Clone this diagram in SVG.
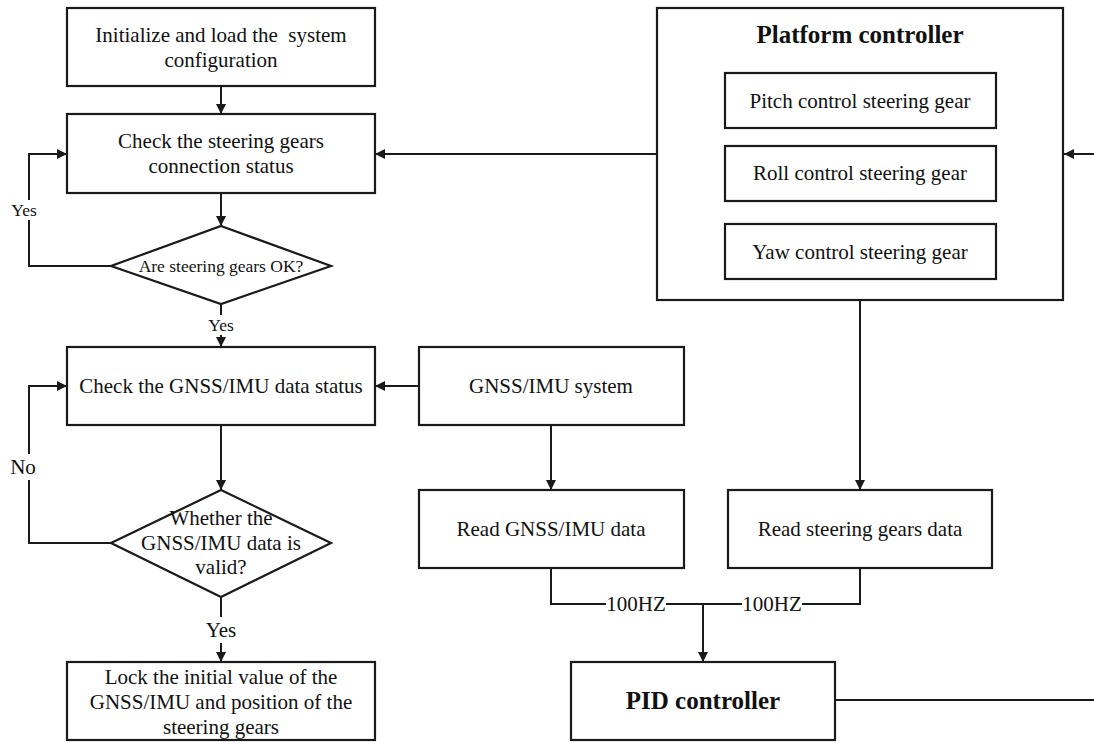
<svg xmlns="http://www.w3.org/2000/svg" width="1094" height="742" viewBox="0 0 1094 742">
<style>
.box{fill:#fff;stroke:#1a1a1a;stroke-width:2.2}
.t{font-family:"Liberation Serif","Times New Roman",serif;font-size:21px;fill:#111;text-anchor:middle}
.s{font-size:17.5px}
.b{font-weight:bold;font-size:25px}
.ln{fill:none;stroke:#1a1a1a;stroke-width:2}
</style>
<defs>
<marker id="ah" viewBox="0 0 10 10" refX="10" refY="5" markerWidth="5" markerHeight="5" orient="auto" markerUnits="strokeWidth">
<path d="M0,0 L10,5 L0,10 z" fill="#1a1a1a"/>
</marker>
</defs>
<rect width="1094" height="742" fill="#fff"/>
<g id="connectors">
<path class="ln" d="M221,86 V114" marker-end="url(#ah)"/>
<path class="ln" d="M221,193 V226" marker-end="url(#ah)"/>
<path class="ln" d="M111,266 H29 V220"/>
<path class="ln" d="M29,200 V154 H67" marker-end="url(#ah)"/>
<path class="ln" d="M221,304 V315"/>
<path class="ln" d="M221,335 V347" marker-end="url(#ah)"/>
<path class="ln" d="M221,425 V490" marker-end="url(#ah)"/>
<path class="ln" d="M111,543 H29 V480"/>
<path class="ln" d="M29,454 V386 H67" marker-end="url(#ah)"/>
<path class="ln" d="M221,597 V617"/>
<path class="ln" d="M221,643 V662" marker-end="url(#ah)"/>
<path class="ln" d="M657,154 H375" marker-end="url(#ah)"/>
<path class="ln" d="M1094,154 H1064" marker-end="url(#ah)"/>
<path class="ln" d="M419,386 H375" marker-end="url(#ah)"/>
<path class="ln" d="M551,425 V490" marker-end="url(#ah)"/>
<path class="ln" d="M860,300 V490" marker-end="url(#ah)"/>
<path class="ln" d="M551,568 V604 H606"/>
<path class="ln" d="M666,604 H742"/>
<path class="ln" d="M802,604 H860 V568"/>
<path class="ln" d="M703,604 V662" marker-end="url(#ah)"/>
<path class="ln" d="M835,700 H1094"/>
<text class="t s" x="24" y="216">Yes</text>
<text class="t s" x="221" y="331">Yes</text>
<text class="t" x="23" y="474">No</text>
<text class="t" x="221" y="637">Yes</text>
<text class="t" x="636" y="611">100HZ</text>
<text class="t" x="772" y="611">100HZ</text>
</g>
<g id="init">
<rect class="box" x="67" y="8" width="308" height="78"/>
<text class="t" x="221" y="42" xml:space="preserve">Initialize and load the  system</text>
<text class="t" x="221" y="67">configuration</text>
</g>
<g id="check-gears">
<rect class="box" x="67" y="114" width="308" height="79"/>
<text class="t" x="221" y="148">Check the steering gears</text>
<text class="t" x="221" y="173">connection status</text>
</g>
<g id="gears-ok">
<polygon class="box" points="221,226 331,266 221,304 111,266"/>
<text class="t s" x="221" y="272">Are steering gears OK?</text>
</g>
<g id="check-gnss">
<rect class="box" x="67" y="347" width="308" height="78"/>
<text class="t" x="221" y="393">Check the GNSS/IMU data status</text>
</g>
<g id="gnss-valid">
<polygon class="box" points="221,490 331,543 221,597 111,543"/>
<text class="t" x="221" y="525">Whether the</text>
<text class="t" x="221" y="550">GNSS/IMU data is</text>
<text class="t" x="221" y="574">valid?</text>
</g>
<g id="lock">
<rect class="box" x="67" y="662" width="308" height="78"/>
<text class="t" x="221" y="684">Lock the initial value of the</text>
<text class="t" x="221" y="709">GNSS/IMU and position of the</text>
<text class="t" x="221" y="734">steering gears</text>
</g>
<g id="gnss-system">
<rect class="box" x="419" y="347" width="265" height="78"/>
<text class="t" x="551" y="393">GNSS/IMU system</text>
</g>
<g id="read-gnss">
<rect class="box" x="419" y="490" width="265" height="78"/>
<text class="t" x="551" y="536">Read GNSS/IMU data</text>
</g>
<g id="read-gears">
<rect class="box" x="728" y="490" width="264" height="78"/>
<text class="t" x="860" y="536">Read steering gears data</text>
</g>
<g id="pid">
<rect class="box" x="571" y="662" width="264" height="78"/>
<text class="t b" x="703" y="709">PID controller</text>
</g>
<g id="platform">
<rect class="box" x="657" y="8" width="406" height="292"/>
<text class="t b" x="860" y="43">Platform controller</text>
<rect class="box" x="725" y="73" width="271" height="55"/>
<text class="t" x="860" y="108">Pitch control steering gear</text>
<rect class="box" x="725" y="146" width="271" height="55"/>
<text class="t" x="860" y="180">Roll control steering gear</text>
<rect class="box" x="725" y="224" width="271" height="55"/>
<text class="t" x="860" y="259">Yaw control steering gear</text>
</g>
</svg>
